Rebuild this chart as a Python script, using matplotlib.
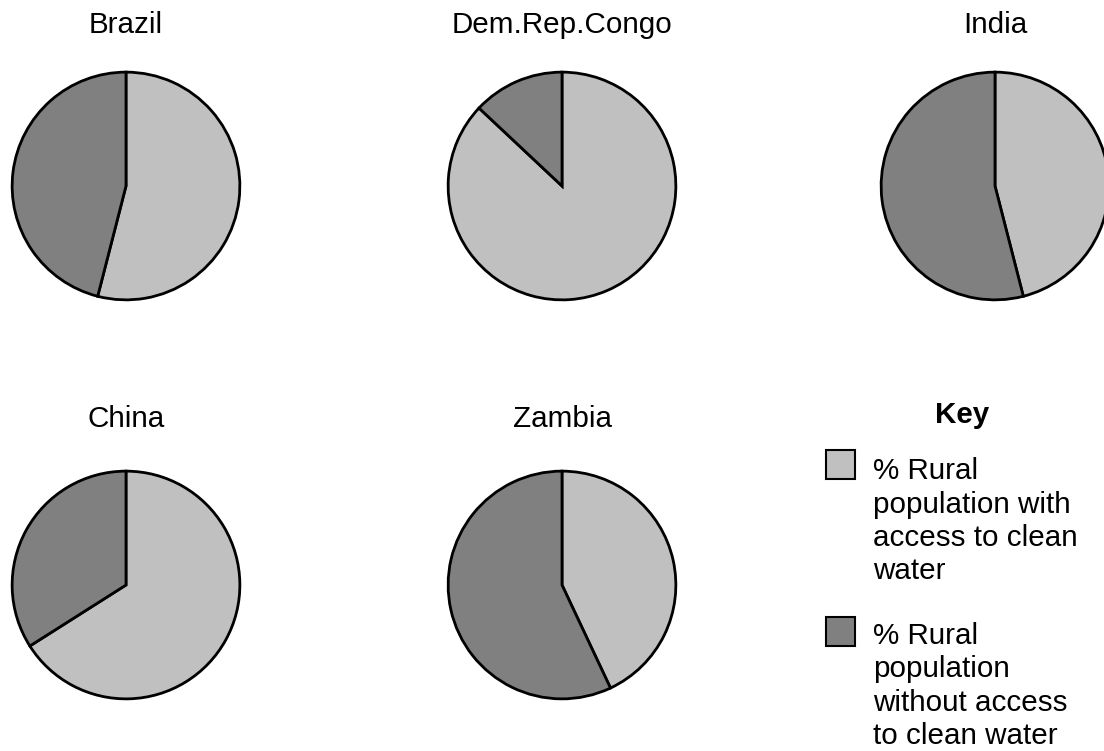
import matplotlib
matplotlib.use("Agg")
import matplotlib.pyplot as plt
from matplotlib.patches import Rectangle

plt.rcParams['font.family'] = ['Liberation Sans', 'DejaVu Sans']

countries = ["Brazil", "Dem.Rep.Congo", "India", "China", "Zambia"]
with_access = [54, 87, 46, 66, 43]
without_access = [46, 13, 54, 34, 57]
legend_labels = ["% Rural\npopulation with\naccess to clean\nwater",
                 "% Rural\npopulation\nwithout access\nto clean water"]
colors = ["#c0c0c0", "#808080"]

W, H = 1104, 751
fig = plt.figure(figsize=(W / 100, H / 100), dpi=100)

R = 115
centers = [(126, 186), (562, 186), (995, 186), (126, 585), (562, 585)]
title_base = [32.7, 32.7, 32.7, 427.3, 427.3]
FS = 21.3

for name, w, wo, (cx, cy), tb in zip(countries, with_access, without_access, centers, title_base):
    ax = fig.add_axes([(cx - R) / W, 1 - (cy + R) / H, 2 * R / W, 2 * R / H])
    ax.pie([w, wo], colors=colors, startangle=90, counterclock=False,
           wedgeprops=dict(edgecolor="black", linewidth=2.0), radius=1)
    ax.set_xlim(-1.01, 1.01)
    ax.set_ylim(-1.01, 1.01)
    ax.set_aspect("equal")
    ax.axis("off")
    for sp in ax.patches:
        sp.set_clip_on(False)
    fig.text(cx / W, 1 - tb / H, name, ha="center", va="baseline", fontsize=FS)

# Key
fig.text(962 / W, 1 - 423.3 / H, "Key", ha="center", va="baseline",
         fontsize=FS, fontweight="bold")

sq_tops = [450, 617]
first_base = [479.3, 644]
line_step = 33.3
for label, col, top, fb in zip(legend_labels, colors, sq_tops, first_base):
    fig.patches.append(Rectangle((826 / W, 1 - (top + 29) / H), 29 / W, 29 / H,
                                 transform=fig.transFigure, facecolor=col,
                                 edgecolor="black", linewidth=1.5))
    for i, line in enumerate(label.split("\n")):
        fig.text(873 / W, 1 - (fb + i * line_step) / H, line, ha="left",
                 va="baseline", fontsize=FS)

fig.savefig("out.png", dpi=100, facecolor="white")
